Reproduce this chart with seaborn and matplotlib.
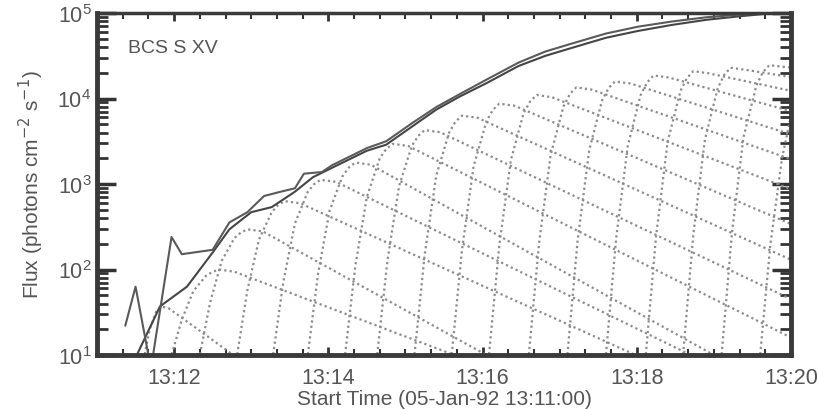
import numpy as np
import pandas as pd
import matplotlib
matplotlib.use("Agg")
import matplotlib.pyplot as plt
import matplotlib.ticker as mticker
import seaborn as sns

# seconds after 13:11:00
obs_time = [22, 30, 40, 42, 58, 66, 90, 103, 117, 130, 143, 154, 161, 168, 175, 183, 210,
            225, 245, 264, 282, 303, 328, 349, 369, 396, 421, 447, 474, 499, 520, 540]
obs_flux = [22, 63, 10, 7, 240, 151, 170, 355, 468, 724, 813, 891, 1320, 1350, 1380, 1660, 2630,
            3160, 5130, 7940, 11200, 16600, 26300, 35500, 43700, 57500, 69200, 79400, 89100,
            95500, 100000, 104700]

model_time = [28, 31, 49, 70, 90, 103, 120, 136, 154, 168, 183, 210, 225, 245, 264, 282, 303,
              328, 349, 369, 396, 421, 447, 474, 499, 520, 540]
model_flux = [6.3, 10, 37, 63, 158, 295, 468, 537, 813, 1200, 1550, 2450, 2880, 4680, 7410,
              10500, 15100, 24000, 31600, 38900, 51300, 61700, 72400, 83200, 91200, 97700, 102000]

# individual thread light curves (dotted)
thread_time = [
    [35, 37, 41, 46, 50, 56, 106, 120],
    [55, 58, 66, 75, 85, 90, 95, 107, 278, 290],
    [77, 80, 88, 97, 107, 112, 117, 129, 303, 315],
    [106, 109, 117, 126, 136, 141, 146, 158, 419, 430],
    [134, 137, 145, 154, 164, 169, 174, 186, 462, 475],
    [161, 164, 172, 181, 191, 196, 201, 213, 480, 490],
    [190, 193, 201, 210, 220, 225, 230, 242, 540],
    [215, 218, 226, 235, 245, 250, 255, 267, 540],
    [244, 247, 255, 264, 274, 279, 284, 296, 540],
    [273, 276, 284, 293, 303, 308, 313, 325, 540],
    [302, 305, 313, 322, 332, 337, 342, 354, 540],
    [333, 336, 344, 353, 363, 368, 373, 385, 540],
    [363, 366, 374, 383, 393, 398, 403, 415, 540],
    [393, 396, 404, 413, 423, 428, 433, 445, 540],
    [424, 427, 435, 444, 454, 459, 464, 476, 540],
    [453, 456, 464, 473, 483, 488, 493, 505, 540],
    [483, 486, 494, 503, 513, 518, 523, 535, 540],
    [513, 516, 524, 533, 540],
]
thread_flux = [
    [5, 10, 20, 32, 37, 35, 10, 7],
    [5, 10, 26, 56, 85, 94, 100, 94, 10, 9],
    [5, 10, 41, 126, 234, 271, 295, 279, 10, 9],
    [5, 10, 57, 224, 470, 569, 630, 596, 10, 9],
    [5, 10, 72, 345, 810, 998, 1120, 1060, 10, 9],
    [5, 10, 89, 490, 1230, 1560, 1780, 1680, 10, 9],
    [5, 10, 110, 710, 2000, 2560, 2950, 2790, 16],
    [5, 10, 127, 940, 2800, 3660, 4270, 4030, 45],
    [5, 10, 150, 1260, 4000, 5370, 6300, 5960, 130],
    [5, 10, 170, 1600, 5400, 7360, 8700, 8220, 340],
    [5, 10, 190, 1900, 6800, 9200, 11000, 10350, 870],
    [5, 10, 205, 2200, 8100, 11300, 13500, 12700, 1950],
    [5, 10, 220, 2500, 9500, 13200, 15800, 15000, 3800],
    [5, 10, 235, 2800, 11000, 15400, 18600, 17600, 7100],
    [5, 10, 245, 3100, 12300, 17300, 20900, 19700, 12300],
    [5, 10, 257, 3300, 13200, 18900, 22900, 21600, 17800],
    [5, 10, 263, 3500, 14100, 20200, 24500, 23400, 23000],
    [5, 10, 200, 2000, 6300],
]

tick_pos = [60, 180, 300, 420, 540]
tick_lab = ["13:12", "13:14", "13:16", "13:18", "13:20"]

rows = []
for i, (ts, fs) in enumerate(zip(thread_time, thread_flux)):
    for t, f in zip(ts, fs):
        rows.append({"thread": i, "t": t, "flux": f})
threads = pd.DataFrame(rows)
obs = pd.DataFrame({"t": obs_time, "flux": obs_flux})
model = pd.DataFrame({"t": model_time, "flux": model_flux})

sns.set_style("ticks")
plt.rcParams["font.family"] = ["Liberation Sans", "DejaVu Sans"]
plt.rcParams["xtick.direction"] = "in"
plt.rcParams["ytick.direction"] = "in"

fig = plt.figure(figsize=(8.18, 4.10), dpi=100)
ax = fig.add_axes([97 / 818, 1 - 356 / 410, (791 - 97) / 818, (356 - 14) / 410])

sns.lineplot(data=threads, x="t", y="flux", units="thread", estimator=None, sort=False,
             color="#8c8c8c", linewidth=1.6, linestyle=(0, (1, 1.4)), ax=ax)
sns.lineplot(data=model, x="t", y="flux", estimator=None, sort=False,
             color="#454545", linewidth=1.5, ax=ax)
sns.lineplot(data=obs, x="t", y="flux", estimator=None, sort=False,
             color="#5a5a5a", linewidth=1.5, ax=ax)

ax.set_yscale("log")
ax.set_ylim(10, 1e5)
ax.set_xlim(0, 540)
ax.xaxis.set_major_locator(mticker.FixedLocator(tick_pos))
ax.xaxis.set_major_formatter(mticker.FixedFormatter(tick_lab))
ax.xaxis.set_minor_locator(mticker.MultipleLocator(20))
ax.yaxis.set_major_locator(mticker.LogLocator(base=10))
ax.yaxis.set_minor_locator(mticker.LogLocator(base=10, subs=np.arange(2, 10)))
ax.yaxis.set_minor_formatter(mticker.NullFormatter())

ax.tick_params(which="both", top=True, right=True, colors="#333333", labelcolor="#555555",
               labelsize=15.5)
ax.tick_params(axis="y", which="major", length=14, width=2.5)
ax.tick_params(axis="y", which="minor", length=8, width=2)
ax.tick_params(axis="x", which="major", length=6, width=2)
ax.tick_params(axis="x", which="minor", length=4, width=1.5)
ax.tick_params(axis="x", which="both", pad=9)
ax.tick_params(axis="y", which="both", pad=4)

for side, w in (("left", 3.5), ("bottom", 3.5), ("right", 3.5), ("top", 2.5)):
    ax.spines[side].set_visible(True)
    ax.spines[side].set_linewidth(w)
    ax.spines[side].set_color("#3a3a3a")

ax.set_xlabel("Start Time (05-Jan-92 13:11:00)", fontsize=15, color="#555555")
ax.xaxis.set_label_coords(0.5, -0.098)
ax.set_ylabel("Flux (photons cm$^{-2}$ s$^{-1}$)", fontsize=15, color="#555555", labelpad=8)
ax.text(0.045, 0.9, "BCS S XV", transform=ax.transAxes, fontsize=14, color="#555555",
        va="center", ha="left")

fig.savefig("out.png", dpi=100)
